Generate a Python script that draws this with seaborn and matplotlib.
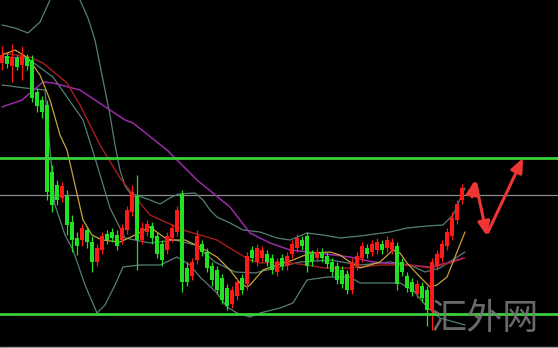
import numpy as np
import pandas as pd
import matplotlib
matplotlib.use("Agg")
import matplotlib.pyplot as plt
import seaborn as sns

# ---------------- data (arbitrary price units) ----------------
open_ = [285, 292, 282, 290, 283, 291, 288, 256, 248, 243,
         176, 163, 150, 152, 126, 110, 108, 118, 106, 86,
         98, 114, 116, 113, 108, 118, 136, 152, 108, 116,
         122, 112, 104, 98, 110, 116, 154, 80, 72, 88,
         104, 96, 82, 78, 70, 60, 44, 52, 70, 64,
         98, 86, 90, 94, 90, 76, 90, 82, 94, 100,
         108, 112, 94, 90, 96, 92, 86, 82, 78, 74,
         58, 82, 90, 100, 96, 98, 104, 100, 98, 102,
         86, 72, 66, 54, 62, 58, 38, 82, 90, 102,
         112, 128, 148]
close = [293, 284, 291, 281, 292, 282, 250, 242, 236, 156,
         143, 148, 162, 123, 108, 102, 120, 106, 86, 100,
         112, 108, 110, 102, 120, 138, 156, 108, 120, 124,
         110, 94, 88, 112, 120, 138, 66, 66, 86, 112,
         96, 80, 68, 58, 48, 42, 58, 66, 58, 92,
         90, 100, 98, 86, 78, 86, 82, 92, 104, 110,
         102, 82, 86, 96, 90, 84, 76, 68, 64, 58,
         86, 92, 102, 94, 104, 106, 98, 108, 106, 64,
         76, 60, 56, 64, 50, 38, 86, 94, 104, 116,
         130, 144, 160]
high = [302, 296, 304, 293, 302, 294, 293, 260, 252, 248,
        183, 168, 166, 158, 133, 116, 124, 122, 112, 104,
        116, 118, 120, 118, 124, 142, 163, 173, 126, 128,
        126, 116, 108, 116, 124, 142, 158, 86, 90, 118,
        108, 100, 86, 82, 74, 64, 62, 70, 74, 96,
        102, 104, 102, 98, 94, 90, 94, 96, 108, 114,
        112, 116, 98, 100, 100, 96, 90, 86, 82, 78,
        90, 96, 106, 104, 108, 110, 108, 112, 110, 106,
        90, 76, 70, 68, 66, 62, 90, 98, 108, 120,
        136, 148, 164]
low = [278, 280, 266, 278, 268, 278, 246, 236, 230, 148,
       136, 143, 146, 113, 96, 93, 102, 100, 76, 82,
       94, 104, 106, 98, 104, 114, 132, 78, 104, 112,
       104, 90, 82, 94, 106, 112, 56, 62, 68, 84,
       92, 76, 62, 54, 44, 38, 40, 48, 54, 58,
       86, 82, 86, 82, 74, 72, 78, 78, 90, 96,
       98, 76, 82, 86, 86, 80, 72, 64, 60, 54,
       54, 78, 86, 90, 92, 94, 94, 96, 94, 58,
       72, 56, 52, 50, 46, 22, 18, 78, 86, 98,
       108, 124, 144]

# indicator lines: (bar index, price)
boll_up_x = [0, 2.6, 5.2, 7.6, 9.6, 11, 14, 15.6, 17.2, 18.6, 20.6, 21.6, 22.6, 23.6, 24.6, 25.6,
             29.6, 31.6, 33.6, 35.2, 38.6, 40.2, 41.6, 43, 45.6, 48.2, 51.6, 55, 57.6, 61,
             64.2, 67.6, 71.6, 77.6, 81, 85, 88.2, 90.2, 92.6]
boll_up_y = [323, 320, 315, 326, 348, 390, 390, 348, 330, 308, 258, 233, 203, 178, 162, 155,
             148, 144, 150, 154, 155, 148, 138, 131, 125, 118, 116, 110, 108, 115,
             113, 110, 112, 116, 120, 122, 123, 133, 160]
boll_mid_x = [0, 5, 10.2, 13, 16.2, 18.6, 21.6, 24.6, 29.6, 34.6, 38.6, 42.6, 46.6, 50.6,
              54.6, 59.6, 65.6, 71.6, 77.6, 81.6, 84.6, 87.6, 92.6]
boll_mid_y = [291, 290, 271, 251, 228, 190, 140, 110, 105, 108, 103, 86, 76, 75,
              80, 86, 88, 83, 86, 83, 76, 80, 96]
boll_lo_x = [0, 4.6, 8.6, 9.6, 10.6, 12.6, 14.2, 16.6, 19, 20.6, 22.6, 24.2, 27.6, 31.6,
             35, 37.6, 39.6, 43, 45, 47, 49.6, 51.6, 55.6, 58.2, 61, 65, 69.6, 71.6,
             79.6, 82.2, 85, 87.6, 92.6]
boll_lo_y = [263, 260, 258, 198, 143, 113, 98, 63, 35, 43, 63, 81, 83, 83,
             91, 83, 71, 55, 41, 35, 31, 35, 40, 45, 68, 71, 71, 65,
             65, 58, 41, 30, 23]
ma_fast_x = [0, 2.6, 5.2, 7.6, 9.6, 11.6, 13, 14.6, 16.2, 18, 20, 23.6, 26.6, 29.6, 32.6,
             34.2, 36.6, 39.6, 43, 45.6, 47.6, 49, 49.6, 52.2, 55, 58.2, 61.6, 65.6,
             67.6, 69.6, 71.6, 73.6, 75.6, 78.2, 79.6, 81, 83.6, 85.6, 87, 89, 90.6, 92.6]
ma_fast_y = [293, 298, 290, 273, 248, 213, 198, 163, 128, 113, 108, 106, 113, 121, 110,
             108, 108, 101, 91, 78, 65, 61, 63, 78, 83, 88, 95, 96,
             93, 86, 80, 83, 86, 98, 95, 85, 71, 61, 63, 71, 91, 116]
ma_mid_x = [0, 5.6, 8.2, 13, 15.6, 19.6, 23.6, 27.6, 29.6, 36.2, 43, 46.2, 49.6, 51.6,
            56.2, 61, 64.6, 69.6, 75.6, 81.6, 85.6, 89.6, 92.6]
ma_mid_y = [295, 291, 285, 265, 243, 203, 170, 145, 133, 118, 108, 98, 88, 85,
            86, 83, 80, 80, 83, 83, 80, 85, 90]
ma_long_x = [0, 4, 8.2, 10.2, 15.6, 21.6, 24.6, 26.2, 33, 39, 45.6, 49.6, 53.6, 57.6,
             63, 69.6, 74.2, 81, 85.6, 89, 92.2]
ma_long_y = [241, 248, 266, 265, 258, 238, 228, 225, 198, 168, 141, 115, 105, 98,
             95, 91, 86, 83, 81, 85, 90]

resistance = 190
mid_level = 153
support = 34

# projected path (bar index, price)
path1_x = [94.0, 94.6]
path1_y = [151, 168]
path2_x = [94.8, 97.0]
path2_y = [164, 112]
path3_x = [97.2, 104.2]
path3_y = [116, 190]

watermark = "汇外网"

# ---------------- drawing ----------------
sns.set_theme(style="dark", rc={"axes.facecolor": "black", "figure.facecolor": "black"})
plt.rcParams['font.family'] = ['Noto Sans CJK SC', 'DejaVu Sans']

fig = plt.figure(figsize=(5.58, 3.48), dpi=100)
ax = fig.add_axes([0, 0, 1, 1])
ax.set_facecolor("black")

n = len(close)
idx = np.arange(n)
o = np.array(open_); c = np.array(close); h = np.array(high); l = np.array(low)
up = c >= o
col = np.where(up, "#ff1a1a", "#22e022")

# reference levels
ax.axhline(mid_level, color="#8c8c8c", lw=0.9, zorder=1)
ax.axhline(resistance, color="#3ad13a", lw=2.0, zorder=5)
ax.axhline(support, color="#3ad13a", lw=2.0, zorder=5)

# indicator lines
def draw(xs, ys, color, lw=0.9):
    d = pd.DataFrame({"x": xs, "y": ys})
    sns.lineplot(data=d, x="x", y="y", ax=ax, color=color, lw=lw, sort=False,
                 estimator=None, zorder=2)

draw(boll_up_x, boll_up_y, "#557f76")
draw(boll_mid_x, boll_mid_y, "#557f76")
draw(boll_lo_x, boll_lo_y, "#557f76")
draw(ma_long_x, ma_long_y, "#9a2aa8", 1.1)
draw(ma_mid_x, ma_mid_y, "#a81c1c", 1.0)
draw(ma_fast_x, ma_fast_y, "#c9a23a", 0.9)

# candles
ax.vlines(idx, l, h, colors=col, lw=0.9, zorder=3)
ax.bar(idx, np.abs(c - o) + 0.8, bottom=np.minimum(o, c) - 0.4, width=0.62,
       color=col, zorder=4, linewidth=0)

# projected arrows
for xs, ys in [(path1_x, path1_y), (path2_x, path2_y), (path3_x, path3_y)]:
    ax.annotate("", xy=(xs[1], ys[1]), xytext=(xs[0], ys[0]),
                arrowprops=dict(arrowstyle="-|>,head_length=0.7,head_width=0.3",
                                color="#f03535", lw=2.2, shrinkA=0, shrinkB=0),
                zorder=6)

ax.text(96.6, 29, watermark, color="#7c7c7c", fontsize=26, ha="center", va="center",
        alpha=0.85, zorder=7, family=['Noto Sans CJK SC', 'DejaVu Sans'])

ax.axhline(1.5, color="#9a9a9a", lw=1.0, zorder=6)

ax.set_xlim(-0.4, 111.2)
ax.set_ylim(0, 348)
ax.set_xlabel(""); ax.set_ylabel("")
ax.set_xticks([]); ax.set_yticks([])
for s in ax.spines.values():
    s.set_visible(False)

fig.savefig("out.png", dpi=100, facecolor="black")
